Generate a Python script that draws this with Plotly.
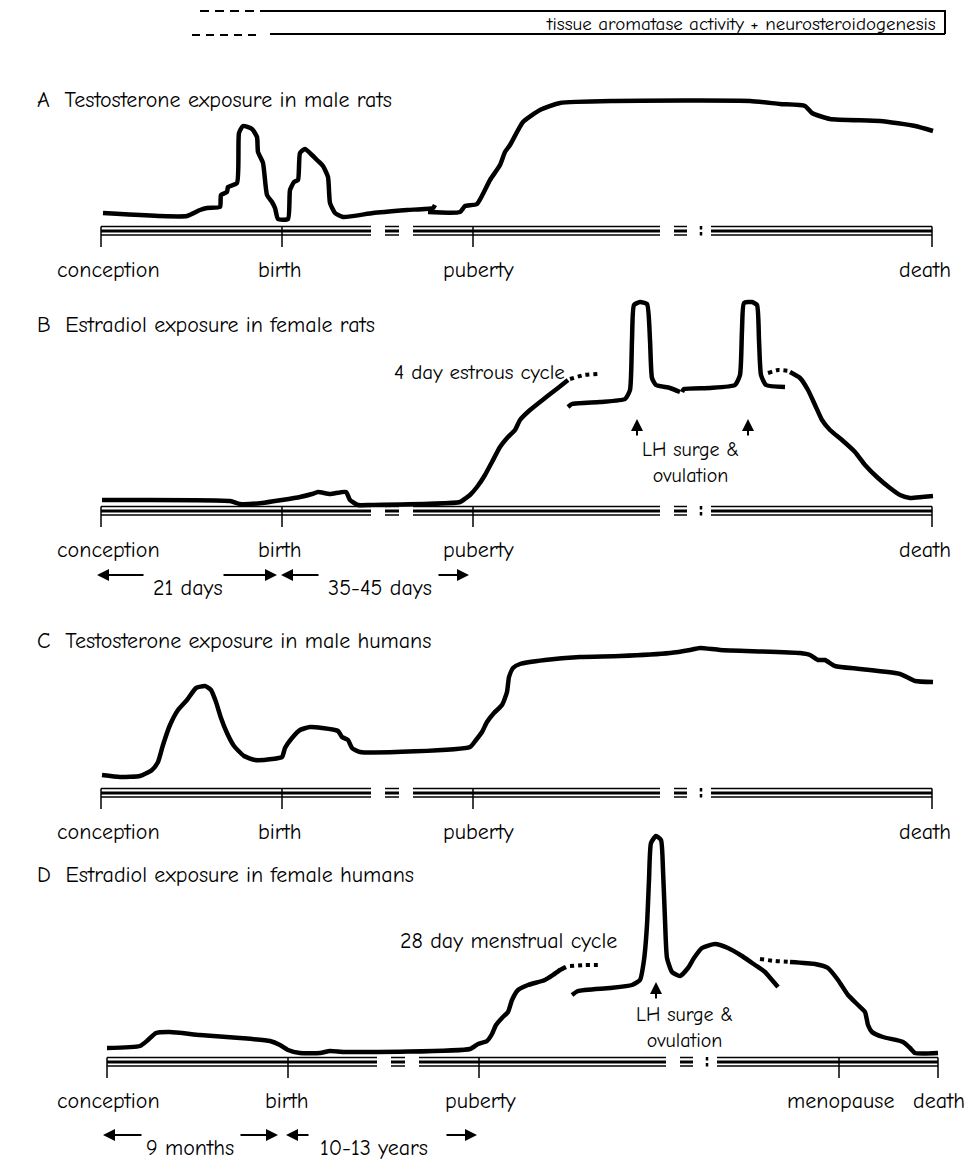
import plotly.graph_objects as go

FONT = "Comic Sans MS, Comic Neue, Noto Sans, sans-serif"
BLACK = "black"

# ---------------- schematic timeline (0 = conception, 831 = death) ----------------
MARKS_ABC = ["conception", "birth", "puberty", "death"]
MARK_T_ABC = [0, 181, 372, 831]
LABEL_T_ABC = [7, 179, 377, 824]

MARKS_D = ["conception", "birth", "puberty", "menopause", "death"]
MARK_T_D = [0, 181, 372, 732, 831]
LABEL_T_D = [1, 180, 373, 733, 832]

AXIS_SEGMENTS = [(0, 270), (284, 298), (312, 559), (573, 586), (610, 831)]
AXIS_DOT_T = 600

# ---------------- A: testosterone, male rats ----------------
A1_t = [2, 86, 99, 106, 119, 120, 126, 127, 136, 138, 142, 151, 156, 157, 162, 166, 171, 174,
        177, 187, 189, 193, 197, 199, 204, 211, 216, 222, 227, 229, 234, 242, 272, 306, 332, 334]
A1_y = [18, 15, 21, 23, 24, 36, 39, 44, 48, 98, 105, 102, 94, 79, 68, 36, 29, 23,
        12, 12, 41, 49, 51, 78, 82, 76, 71, 65, 54, 28, 18, 14, 18, 21, 23, 26]
A2_t = [327, 359, 364, 376, 389, 399, 404, 409, 422, 439, 459, 514, 649, 679, 704, 711, 729, 779, 814, 832]
A2_y = [19, 19, 25, 27, 51, 66, 79, 86, 109, 121, 128, 130, 130, 127, 125, 118, 112, 110, 105, 100]

# ---------------- B: estradiol, female rats ----------------
B1_t = [1, 129, 139, 161, 181, 199, 211, 217, 229, 245, 249, 257, 269, 359, 365, 369, 376, 384,
        391, 399, 407, 414, 419, 429, 444, 457, 467]
B1_y = [11, 10, 7, 8, 11, 14, 17, 19, 17, 19, 11, 6, 6, 9, 13, 16, 24, 36,
        49, 64, 74, 81, 91, 101, 113, 123, 131]
B1d_t = [469, 483, 497]
B1d_y = [132, 136, 137]
B2_t = [467, 471, 499, 524, 529, 531, 533, 539, 546, 549, 551, 555, 569, 579]
B2_y = [104, 107, 109, 112, 121, 171, 206, 209, 207, 171, 133, 126, 123, 119]
B3_t = [581, 583, 609, 634, 639, 641, 643, 651, 656, 658, 660, 665, 684]
B3_y = [119, 122, 123, 126, 136, 181, 208, 209, 206, 171, 136, 126, 124]
B3d_t = [667, 677, 689]
B3d_y = [138, 141, 140]
B4_t = [689, 699, 707, 714, 721, 729, 741, 754, 764, 777, 789, 799, 809, 821, 832]
B4_y = [139, 133, 121, 106, 91, 81, 71, 59, 46, 33, 23, 16, 13, 14, 15]

# ---------------- C: testosterone, male humans ----------------
C1_t = [1, 19, 39, 51, 57, 62, 69, 77, 86, 95, 104, 110, 115, 120, 126, 133, 143, 154, 171, 181,
        184, 191, 199, 209, 221, 237, 241, 247, 251, 259, 369, 375, 381, 386, 393, 401, 406, 408,
        412, 419, 444, 479, 519, 569, 589, 599, 619, 699, 709, 717, 724, 734, 759, 799, 814, 832]
C1_y = [18, 16, 17, 23, 31, 48, 68, 83, 93, 105, 107, 103, 91, 75, 60, 47, 37, 33, 34, 36,
        45, 55, 63, 66, 65, 62, 56, 53, 45, 41, 46, 53, 61, 71, 80, 88, 101, 116,
        125, 129, 133, 136, 137, 140, 143, 145, 143, 140, 138, 133, 133, 127, 124, 119, 112, 111]

# ---------------- D: estradiol, female humans ----------------
D1_t = [0, 33, 41, 49, 63, 93, 133, 163, 173, 181, 193, 213, 223, 238, 363, 371, 380, 385, 389,
        395, 401, 405, 411, 421, 438, 446, 453, 459]
D1_y = [14, 16, 22, 29, 30, 27, 24, 21, 17, 12, 9, 9, 11, 10, 13, 18, 21, 28, 37,
        44, 50, 62, 72, 77, 82, 87, 92, 95]
D1d_t = [463, 478, 493]
D1d_y = [96, 97, 97]
D2_t = [465, 471, 503, 525, 533, 537, 540, 542, 544, 549, 554, 556, 558, 560, 565, 573, 581, 587,
        595, 608, 621, 635, 648, 658, 665, 671]
D2_y = [67, 71, 74, 77, 82, 102, 137, 182, 219, 226, 222, 192, 142, 104, 90, 86, 94, 104,
        114, 118, 114, 106, 97, 90, 82, 75]
D2d_t = [653, 668, 683]
D2d_y = [103, 101, 100]
D3_t = [683, 708, 721, 731, 741, 751, 758, 761, 765, 776, 796, 803, 808, 831]
D3_y = [100, 98, 94, 82, 67, 57, 50, 37, 30, 25, 20, 14, 9, 9]

# ---------------- layout helpers (pixel frame of each panel) ----------------
W, H = 970, 1160
# (axis-line pixel row, top pixel, bottom pixel, conception pixel column)
PANELS = {
    "A": (231, 0, 300, 101),
    "B": (511, 290, 600, 101),
    "C": (793, 600, 860, 101),
    "D": (1062, 790, 1160, 107),
}
SIZE = 22

fig = go.Figure()
layout_axes = {}
for i, key in enumerate(["A", "B", "C", "D"], start=1):
    axis_px, top_px, bot_px, x0_px = PANELS[key]
    xname = "xaxis" if i == 1 else f"xaxis{i}"
    yname = "yaxis" if i == 1 else f"yaxis{i}"
    layout_axes[xname] = dict(domain=[0, 1], range=[-x0_px, W - x0_px], visible=False,
                              anchor="y" if i == 1 else f"y{i}", fixedrange=True)
    layout_axes[yname] = dict(domain=[(H - bot_px) / H, (H - top_px) / H],
                              range=[axis_px - bot_px, axis_px - top_px], visible=False,
                              anchor="x" if i == 1 else f"x{i}", fixedrange=True)


def ax_ids(key):
    i = ["A", "B", "C", "D"].index(key) + 1
    return ("x", "y") if i == 1 else (f"x{i}", f"y{i}")


def line(key, t, y, width=4.5, dash="solid", smooth=True):
    xa, ya = ax_ids(key)
    fig.add_trace(go.Scatter(
        x=t, y=y, mode="lines", xaxis=xa, yaxis=ya, hoverinfo="skip", showlegend=False,
        line=dict(color=BLACK, width=width, dash=dash,
                  shape="spline" if smooth else "linear", smoothing=0.5 if smooth else 0)))


def timeline(key, marks_t):
    for off, w in [(4.5, 1.5), (0, 3), (-4, 1.5)]:
        xs, ys = [], []
        for a, b in AXIS_SEGMENTS:
            xs += [a, b, None]
            ys += [off, off, None]
        line(key, xs, ys, width=w, smooth=False)
    xs, ys = [], []
    for t in marks_t:
        xs += [t, t, None]
        ys += [4.5, -16, None]
    line(key, xs, ys, width=1.5, smooth=False)
    line(key, [AXIS_DOT_T, AXIS_DOT_T, None, AXIS_DOT_T, AXIS_DOT_T],
         [5, 1.5, None, -1, -4.5], width=2.5, smooth=False)


annotations = []


def text(key, t, y, s, size=SIZE, xanchor="center"):
    xa, ya = ax_ids(key)
    annotations.append(dict(x=t, y=y, xref=xa, yref=ya, text=s, showarrow=False,
                            xanchor=xanchor, yanchor="middle",
                            font=dict(family=FONT, size=size, color=BLACK)))


def arrow(key, t_from, y_from, t_to, y_to):
    xa, ya = ax_ids(key)
    annotations.append(dict(x=t_to, y=y_to, ax=t_from, ay=y_from, xref=xa, yref=ya,
                            axref=xa, ayref=ya, text="", showarrow=True, arrowhead=2,
                            arrowsize=1.2, arrowwidth=2, arrowcolor=BLACK, standoff=0,
                            startstandoff=0))


# ---------- legend strip at top (panel A frame) ----------
line("A", [99, 156], [220, 220], width=2, dash="9px,6px", smooth=False)
line("A", [159, 844, 844], [220, 220, 197], width=2, smooth=False)
line("A", [91, 159], [196, 196], width=2, dash="8px,6px", smooth=False)
line("A", [169, 844], [197, 197], width=2, smooth=False)
text("A", 837, 207, "tissue aromatase activity + neurosteroidogenesis", size=19, xanchor="right")

# ---------- Panel A ----------
timeline("A", MARK_T_ABC)
line("A", A1_t, A1_y)
line("A", A2_t, A2_y)
text("A", -66, 131, "A  Testosterone exposure in male rats", xanchor="left")
for lab, t in zip(MARKS_ABC, LABEL_T_ABC):
    text("A", t, -39, lab)

# ---------- Panel B ----------
timeline("B", MARK_T_ABC)
for t, y in [(B1_t, B1_y), (B2_t, B2_y), (B3_t, B3_y), (B4_t, B4_y)]:
    line("B", t, y)
for t, y in [(B1d_t, B1d_y), (B3d_t, B3d_y)]:
    line("B", t, y, width=4, dash="dot")
text("B", -66, 186, "B  Estradiol exposure in female rats", xanchor="left")
text("B", 466, 139, "4 day estrous cycle", size=21, xanchor="right")
text("B", 589, 49, "LH surge &<br>ovulation", size=20)
arrow("B", 536, 74, 536, 92)
arrow("B", 647, 74, 647, 92)
for lab, t in zip(MARKS_ABC, LABEL_T_ABC):
    text("B", t, -39, lab)
arrow("B", 44, -64, -4, -64)
text("B", 87, -77, "21 days")
arrow("B", 121, -64, 176, -64)
arrow("B", 219, -64, 180, -64)
text("B", 279, -77, "35-45 days")
arrow("B", 336, -64, 368, -64)

# ---------- Panel C ----------
timeline("C", MARK_T_ABC)
line("C", C1_t, C1_y)
text("C", -66, 152, "C  Testosterone exposure in male humans", xanchor="left")
for lab, t in zip(MARKS_ABC, LABEL_T_ABC):
    text("C", t, -39, lab)

# ---------- Panel D ----------
timeline("D", MARK_T_D)
for t, y in [(D1_t, D1_y), (D2_t, D2_y), (D3_t, D3_y)]:
    line("D", t, y)
for t, y in [(D1d_t, D1d_y), (D2d_t, D2d_y)]:
    line("D", t, y, width=4, dash="dot")
text("D", -72, 187, "D  Estradiol exposure in female humans", xanchor="left")
text("D", 401, 121, "28 day menstrual cycle")
text("D", 577, 35, "LH surge &<br>ovulation", size=20)
arrow("D", 549, 62, 549, 80)
for lab, t in zip(MARKS_D, LABEL_T_D):
    text("D", t, -39, lab)
arrow("D", 36, -73, -4, -73)
text("D", 83, -86, "9 months")
arrow("D", 132, -73, 171, -73)
arrow("D", 203, -73, 179, -73)
text("D", 267, -86, "10-13 years")
arrow("D", 338, -73, 370, -73)

fig.update_layout(
    width=W, height=H, margin=dict(l=0, r=0, t=0, b=0),
    paper_bgcolor="white", plot_bgcolor="rgba(0,0,0,0)",
    showlegend=False, annotations=annotations, **layout_axes)

fig.write_html("out.html", config={"displayModeBar": False},
               post_script="document.body.style.margin='0px';document.body.style.overflow='hidden';")
